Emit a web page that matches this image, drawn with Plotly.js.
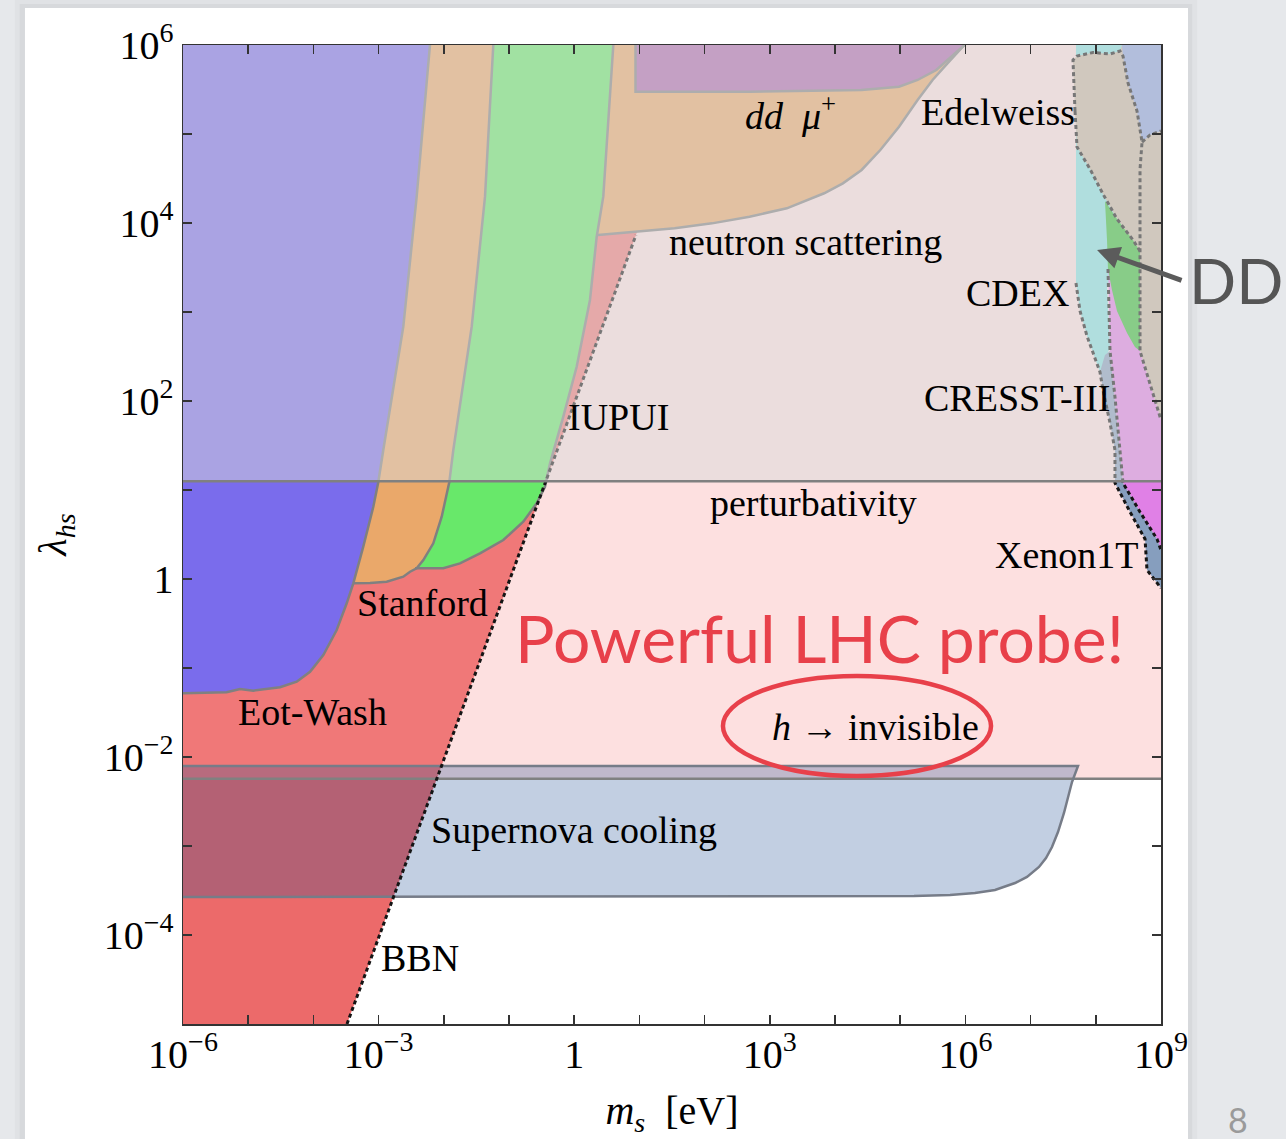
<!DOCTYPE html>
<html>
<head>
<meta charset="utf-8">
<script src="https://cdn.plot.ly/plotly-3.0.1.min.js"></script>
<style>
  html, body { margin: 0; padding: 0; background: #e6e8eb; }
  #chart { width: 1286px; height: 1139px; }
</style>
</head>
<body>
<div id="chart"></div>
<script>
// All boundaries are stored as log10(m_s / eV) and log10(lambda_hs).
const logMRange = [-6, 9];
const logLambdaRange = [-5, 6];

// Perturbative unitarity (lambda = 4 pi) and the h -> invisible limit
const perturbativityLogL = 1.099;
const invisibleLogL = -2.245;

// BBN: straight line in log-log, lambda ~ m^2
const bbnLogM = [-3.485, -2.1075, 0.9475, 2.015];
const bbnLogL = [-5, -2.245, 3.865, 6];

// Fifth-force experiments
const eotWashLogM = [-6, -5.330, -5.126, -4.922, -4.512, -4.256, -4.052, -3.848, -3.643, -3.489, -3.388, -3.235, -3.081, -3.005, -2.928, -2.621, -2.416, -2.212];
const eotWashLogL = [-1.284, -1.273, -1.236, -1.255, -1.217, -1.154, -1.042, -0.854, -0.573, -0.273, -0.048, 0.363, 0.812, 1.087, 1.449, 2.835, 4.296, 6];

const stanfordLogM = [-3.388, -3.132, -2.876, -2.621, -2.518, -2.416, -2.314, -2.161, -2.032, -1.956, -1.916, -1.854, -1.572, -1.368, -1.241];
const stanfordLogL = [-0.048, -0.045, -0.030, 0.026, 0.082, 0.120, 0.213, 0.401, 0.700, 0.963, 1.087, 1.449, 2.835, 4.296, 6];

const iupuiLogM = [-2.442, -2.008, -1.752, -1.445, -1.087, -0.781, -0.575, -0.448, -0.371, -0.167, 0.038, 0.242, 0.345, 0.446, 0.600];
const iupuiLogL = [0.120, 0.120, 0.176, 0.289, 0.438, 0.644, 0.851, 1.037, 1.300, 1.824, 2.385, 3.135, 3.846, 4.296, 6];

const neutronLogM = [0.365, 0.969, 1.541, 2.113, 2.689, 3.261, 3.834, 4.121, 4.408, 4.695, 4.982, 5.267, 5.497, 5.725, 5.985];
const neutronLogL = [3.865, 3.902, 3.940, 3.996, 4.071, 4.165, 4.334, 4.446, 4.596, 4.820, 5.082, 5.382, 5.607, 5.794, 6];

const ddMuLogM = [0.940, 0.940, 2.689, 4.408, 4.982, 5.267, 5.554, 5.779, 5.985];
const ddMuLogL = [6, 5.475, 5.475, 5.494, 5.531, 5.607, 5.719, 5.869, 6];

// Supernova cooling band
const supernovaLogM = [-6, 7.727, 7.635, 7.512, 7.420, 7.328, 7.236, 7.129, 6.945, 6.761, 6.454, 6.147, 5.764, 5.212, -6];
const supernovaLogL = [-2.101, -2.101, -2.281, -2.629, -2.843, -3.011, -3.135, -3.236, -3.348, -3.416, -3.494, -3.528, -3.551, -3.562, -3.573];

// Direct detection
const cdexLogM = [7.696, 8.402, 8.402, 8.172, 8.218, 8.064, 7.865, 7.758, 7.696];
const cdexLogL = [6, 6, 3.6, 3.3, 2.6, 2.326, 2.730, 3.011, 3.326];

const edelweissLogM = [7.650, 7.712, 7.957, 8.218, 8.371, 8.402, 9, 9, 8.678, 8.678, 8.571, 8.325, 8.110, 7.911, 7.712, 7.681];
const edelweissLogL = [5.831, 5.876, 5.916, 5.899, 5.933, 6, 6, 1.787, 2.562, 3.685, 3.809, 4.045, 4.326, 4.607, 4.854, 5.258];

const ddTopLogM = [8.402, 9, 9, 8.831, 8.709, 8.632, 8.494, 8.417];
const ddTopLogL = [6, 6, 5.034, 4.989, 4.910, 5.258, 5.573, 5.876];

const cresstLogM = [8.19, 8.678, 8.678, 9, 9, 8.939, 8.678, 8.417, 8.371, 8.294, 8.218];
const cresstLogL = [3.5, 3.135, 2.562, 1.787, 0.326, 0.449, 0.753, 1.079, 1.438, 2.045, 2.562];

const ddGreenLogM = [8.141, 8.325, 8.571, 8.678, 8.678, 8.601, 8.479, 8.325, 8.248, 8.187, 8.172];
const ddGreenLogL = [4.247, 4.045, 3.809, 3.685, 2.562, 2.607, 2.764, 3.011, 3.247, 3.483, 3.809];

const xenonLogM = [8.064, 8.110, 8.218, 8.294, 8.294, 8.525, 8.755, 8.785, 9, 9, 8.939, 8.678, 8.417, 8.371, 8.294, 8.218, 8.141];
const xenonLogL = [2.326, 2.124, 1.753, 1.449, 1.079, 0.753, 0.449, 0.101, -0.101, 0.326, 0.449, 0.753, 1.079, 1.438, 2.045, 2.562, 2.517];

// Dotted outlines of the direct-detection regions
const edelweissOutlineLogM = [7.681, 7.650, 7.712, 7.957, 8.218, 8.371, 8.417, 8.494, 8.632, 8.709, 8.678, 8.678, 9];
const edelweissOutlineLogL = [5.258, 5.831, 5.876, 5.916, 5.899, 5.933, 5.876, 5.573, 5.258, 4.910, 4.6, 2.562, 1.787];
const edelweissLowerLogM = [7.681, 7.712, 7.911, 8.110, 8.325, 8.571, 8.678];
const edelweissLowerLogL = [5.258, 4.854, 4.607, 4.326, 4.045, 3.809, 3.685];
const ddTopEdgeLogM = [8.709, 8.831, 9];
const ddTopEdgeLogL = [4.910, 4.989, 5.034];
const xenonLeftLogM = [7.696, 7.758, 7.865, 8.064, 8.110, 8.218, 8.294, 8.294, 8.525, 8.755, 8.785, 9];
const xenonLeftLogL = [3.326, 3.011, 2.730, 2.326, 2.124, 1.753, 1.449, 1.079, 0.753, 0.449, 0.101, -0.101];
const xenonRightLogM = [8.187, 8.218, 8.294, 8.371, 8.417, 8.678, 8.939, 9];
const xenonRightLogL = [3.483, 2.562, 2.045, 1.438, 1.079, 0.753, 0.449, 0.326];

// Axis ticks: labelled decades, plus a minor tick at every decade
const xMajorExp = [-6, -3, 0, 3, 6, 9];
const xTickLabels = ['10<sup>−6</sup>', '10<sup>−3</sup>', '1', '10<sup>3</sup>', '10<sup>6</sup>', '10<sup>9</sup>'];
const xMinorExp = [-5, -4, -2, -1, 1, 2, 4, 5, 7, 8];
const yMajorExp = [-4, -2, 0, 2, 4, 6];
const yTickLabels = ['10<sup>−4</sup>', '10<sup>−2</sup>', '1', '10<sup>2</sup>', '10<sup>4</sup>', '10<sup>6</sup>'];
const yMinorExp = [-5, -3, -1, 1, 3, 5];

const p10 = v => Math.pow(10, v);

function region(logM, logL, color) {
  return {
    type: 'scatter', mode: 'lines',
    x: logM.map(p10), y: logL.map(p10),
    fill: 'toself', fillcolor: color,
    line: { width: 0, color: color },
    hoverinfo: 'skip', showlegend: false
  };
}
function edge(logM, logL, color, width, dash) {
  return {
    type: 'scatter', mode: 'lines',
    x: logM.map(p10), y: logL.map(p10),
    line: { width: width, color: color, dash: dash || 'solid' },
    hoverinfo: 'skip', showlegend: false
  };
}

const solidGray = '#808080';
const dotted = '4px,3px';
const m0 = logMRange[0], m1 = logMRange[1];
const l1 = logLambdaRange[1];

const traces = [
  // h -> invisible reach
  region([m0, m1, m1, m0], [invisibleLogL, invisibleLogL, l1, l1], '#fde0e0'),
  // BBN excluded area, split at the invisible-width bound
  region([m0, bbnLogM[0], bbnLogM[1], m0], [bbnLogL[0], bbnLogL[0], bbnLogL[1], bbnLogL[1]], '#ec6a6a'),
  region([m0, bbnLogM[1], bbnLogM[3], m0], [bbnLogL[1], bbnLogL[1], bbnLogL[3], bbnLogL[3]], '#f07878'),
  // Supernova cooling
  region(supernovaLogM, supernovaLogL, 'rgba(23,72,145,0.263)'),
  // Neutron scattering and dd mu+
  region(neutronLogM.concat([0.2, 0.2]), neutronLogL.concat([6, 3.865]), '#eaa86a'),
  region(ddMuLogM, ddMuLogL, '#ae66ae'),
  // Fifth-force searches
  region(iupuiLogM.concat([m0, m0]), iupuiLogL.concat([6, iupuiLogL[0]]), '#68e86a'),
  region(stanfordLogM.concat([m0, m0]), stanfordLogL.concat([6, stanfordLogL[0]]), '#eaa86a'),
  region(eotWashLogM.concat([m0]), eotWashLogL.concat([6]), '#7a6cec'),
  // Direct detection
  region(cdexLogM, cdexLogL, '#86e2e2'),
  region(edelweissLogM, edelweissLogL, '#c6b6a2'),
  region(ddTopLogM, ddTopLogL, '#8aa2de'),
  region(cresstLogM, cresstLogL, '#e080e6'),
  region(ddGreenLogM, ddGreenLogL, '#36be36'),
  region(xenonLogM, xenonLogL, '#869ebe'),
  // Solid boundaries
  edge([m0, m1], [invisibleLogL, invisibleLogL], solidGray, 2.5),
  edge(supernovaLogM, supernovaLogL, '#767c88', 2.5),
  edge(neutronLogM, neutronLogL, solidGray, 2.5),
  edge(ddMuLogM, ddMuLogL, solidGray, 2.5),
  edge(iupuiLogM, iupuiLogL, solidGray, 2.5),
  edge(stanfordLogM, stanfordLogL, solidGray, 2.5),
  edge(eotWashLogM, eotWashLogL, solidGray, 2.5),
  // Dotted boundaries
  edge(bbnLogM.slice(0, 3), bbnLogL.slice(0, 3), '#151515', 3, dotted),
  edge(edelweissOutlineLogM, edelweissOutlineLogL, '#151515', 3, dotted),
  edge(edelweissLowerLogM, edelweissLowerLogL, '#151515', 3, dotted),
  edge(ddTopEdgeLogM, ddTopEdgeLogL, '#151515', 3, dotted),
  edge(xenonLeftLogM, xenonLeftLogL, '#151515', 3, dotted),
  edge(xenonRightLogM, xenonRightLogL, '#151515', 3, dotted),
  // Non-perturbative region is washed out
  region([m0, m1, m1, m0], [perturbativityLogL, perturbativityLogL, l1, l1], 'rgba(218,218,218,0.5)'),
  edge([m0, m1], [perturbativityLogL, perturbativityLogL], solidGray, 2.5)
];

const serif = 'Liberation Serif, Times New Roman, serif';
const sans = 'Lato, Noto Sans, sans-serif';
const lbl = (text, x, y, size, color, family) => ({
  text: text, xref: 'paper', yref: 'paper', x: x, y: y,
  xanchor: 'center', yanchor: 'middle', showarrow: false,
  font: { family: family || serif, size: size || 38, color: color || '#000' }
});

const annotations = [
  lbl('<i>dd</i>  <i>μ</i><sup>+</sup>', 0.6207, 0.9305),
  lbl('Edelweiss', 0.8333, 0.9316),
  lbl('neutron scattering', 0.636, 0.7988),
  lbl('CDEX', 0.8528, 0.7467),
  lbl('CRESST-III', 0.8528, 0.6394),
  lbl('IUPUI', 0.4448, 0.62),
  lbl('perturbativity', 0.6442, 0.5322),
  lbl('Xenon1T', 0.9039, 0.479),
  lbl('Stanford', 0.2444, 0.43),
  lbl('Powerful LHC probe!', 0.6513, 0.3943, 66, '#e8404a', sans),
  lbl('Eot-Wash', 0.1329, 0.3187),
  lbl('<i>h</i> → invisible', 0.7076, 0.3034),
  lbl('Supernova cooling', 0.3998, 0.1982),
  lbl('BBN', 0.2423, 0.0674),
  lbl('DD', 1.0767, 0.76, 62, '#555555', sans),
  lbl('8', 1.0787, -0.0975, 34, '#9a9a9a', sans),
  {
    text: '', xref: 'paper', yref: 'paper', x: 0.9346, y: 0.7906,
    showarrow: true, ax: 86, ay: 31, arrowhead: 2, arrowsize: 0.9,
    arrowwidth: 5, arrowcolor: '#5b5b5b', standoff: 0
  }
];

const shapes = [
  // slide card with a soft shadow
  { type: 'rect', xref: 'paper', yref: 'paper', x0: -0.172, x1: 1.037, y0: -0.2, y1: 1.046,
    fillcolor: 'rgba(0,0,0,0.025)', line: { width: 0 }, layer: 'below' },
  { type: 'rect', xref: 'paper', yref: 'paper', x0: -0.167, x1: 1.032, y0: -0.2, y1: 1.042,
    fillcolor: 'rgba(0,0,0,0.04)', line: { width: 0 }, layer: 'below' },
  { type: 'rect', xref: 'paper', yref: 'paper', x0: -0.1616, x1: 1.0276, y0: -0.2, y1: 1.0378,
    fillcolor: '#ffffff', line: { width: 0 }, layer: 'below' },
  // circled h -> invisible
  { type: 'circle', xref: 'paper', yref: 'paper', x0: 0.5521, x1: 0.8262, y0: 0.2533, y1: 0.3555,
    line: { color: '#e8404a', width: 4.5 }, fillcolor: 'rgba(0,0,0,0)', layer: 'above' }
];

const tickStyle = { ticks: 'inside', ticklen: 9, tickwidth: 1.5, tickcolor: '#333' };
const axisCommon = Object.assign({
  type: 'log', showline: true, linecolor: '#333', linewidth: 1.5, mirror: 'ticks',
  showgrid: false, zeroline: false, tickmode: 'array',
  tickfont: { family: serif, size: 40, color: '#000' }
}, tickStyle);

const layout = {
  width: 1286, height: 1139, autosize: false,
  margin: { l: 183, r: 125, t: 45, b: 115, pad: 0 },
  paper_bgcolor: '#e6e8eb', plot_bgcolor: '#ffffff',
  showlegend: false,
  xaxis: Object.assign({}, axisCommon, {
    range: logMRange,
    tickvals: xMajorExp.map(p10), ticktext: xTickLabels,
    ticklabelstandoff: -6,
    minor: Object.assign({ tickmode: 'array', tickvals: xMinorExp.map(p10), showgrid: false }, tickStyle),
    title: { text: '<i>m</i><sub><i>s</i></sub>  [eV]', font: { family: serif, size: 40, color: '#000' }, standoff: 20 }
  }),
  yaxis: Object.assign({}, axisCommon, {
    range: logLambdaRange,
    tickvals: yMajorExp.map(p10), ticktext: yTickLabels,
    minor: Object.assign({ tickmode: 'array', tickvals: yMinorExp.map(p10), showgrid: false }, tickStyle),
    title: { text: '<i>λ</i><sub><i>hs</i></sub>', font: { family: serif, size: 40, color: '#000' }, standoff: 24 }
  }),
  annotations: annotations,
  shapes: shapes
};

Plotly.newPlot('chart', traces, layout, { displayModeBar: false, staticPlot: true });
</script>
</body>
</html>
